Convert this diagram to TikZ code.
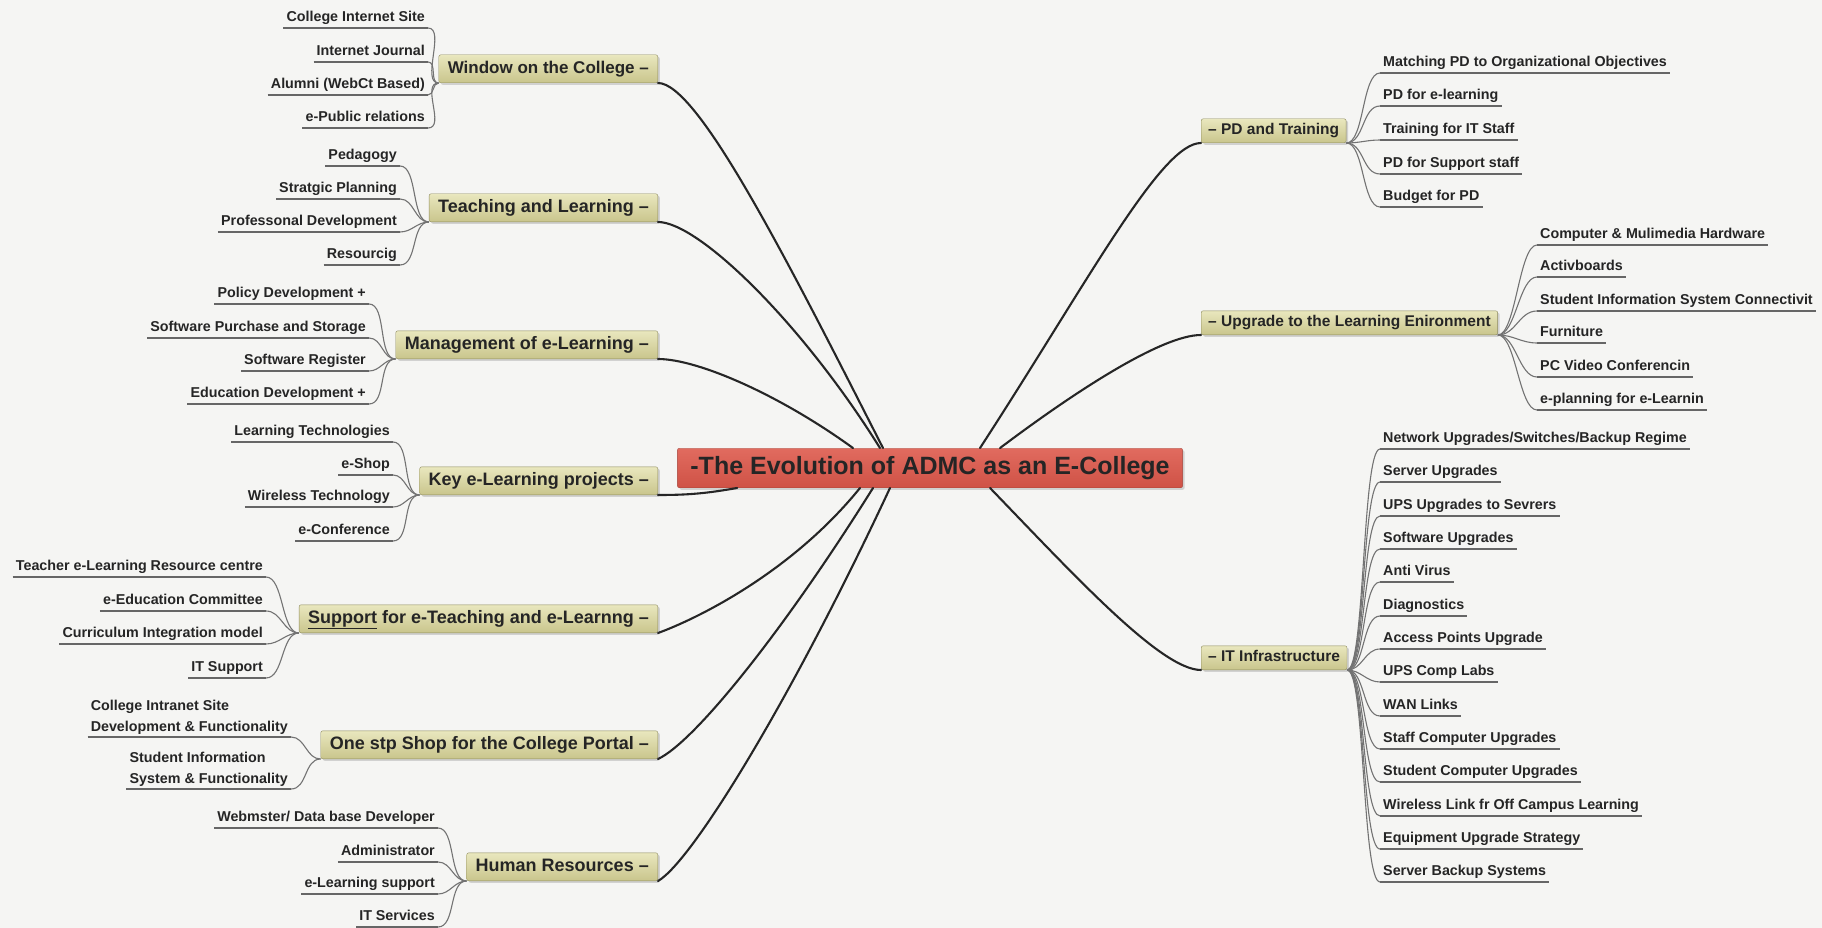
\documentclass[tikz,border=0pt]{standalone}
\usepackage{fontspec}
\setmainfont{Liberation Sans}
\usepackage{xcolor}
\usepackage{tikz}
\usetikzlibrary{shadows}

\definecolor{paper}{HTML}{F5F5F3}
\definecolor{inkDark}{HTML}{252525}
\definecolor{khakiTop}{HTML}{E9E7BE}
\definecolor{khakiBot}{HTML}{C9C58C}
\definecolor{khakiLine}{HTML}{8E8B5E}
\definecolor{coreTop}{HTML}{E16B5F}
\definecolor{coreBot}{HTML}{CF5246}
\definecolor{coreLine}{HTML}{A5443A}

\newcommand\corefont{\bfseries\fontsize{25}{28}\selectfont}
\newcommand\topicfont{\bfseries\fontsize{18}{20}\selectfont}
\newcommand\subtopicfont{\bfseries\fontsize{15.5}{18}\selectfont}
\newcommand\leaffont{\bfseries\fontsize{14.3}{21}\selectfont}

\begin{document}
\begin{tikzpicture}[
    x=1pt, y=1pt,
    core/.style={rectangle, rounded corners=2pt, draw=coreLine, top color=coreTop, bottom color=coreBot, text=inkDark, font=\corefont, inner xsep=13pt, inner ysep=8pt, text height=18pt, text depth=5.5pt, drop shadow={shadow xshift=2pt, shadow yshift=-2pt, opacity=0.3}},
    topic/.style={rectangle, rounded corners=2pt, draw=khakiLine, top color=khakiTop, bottom color=khakiBot, text=inkDark, font=\topicfont, inner xsep=9pt, inner ysep=5.5pt, text height=13pt, text depth=4pt, drop shadow={shadow xshift=2pt, shadow yshift=-2pt, opacity=0.3}},
    subtopic/.style={topic, font=\subtopicfont, inner xsep=7pt, inner ysep=4.5pt, text height=11.5pt, text depth=3.5pt},
    uline/.style={draw=black!60, line width=1.3pt},
    leafbase/.style={inner xsep=3pt, inner ysep=2.4pt, text=inkDark, font=\leaffont, append after command={\pgfextra{\let\thisleaf=\tikzlastnode} (\thisleaf.south west) edge[uline] (\thisleaf.south east)}},
    leaf/.style={leafbase, text height=10.5pt, text depth=3.5pt},
    leafpair/.style={leafbase, align=left},
    trunk/.style={draw=black!85, line width=2.1pt, line cap=round},
    twig/.style={draw=black!55, line width=1.1pt, max distance=18pt}
]

\useasboundingbox (0,0) rectangle (1822,-928);
\fill[paper] (0,0) rectangle (1822,-928);

% central topic
\node[core] (evo) at (930,-468) {-The Evolution of ADMC as an E-College};

% left main topics
\node[topic, anchor=south east, font=\bfseries\fontsize{17}{19}\selectfont] (win) at (658,-83) {Window on the College \textendash};
\node[topic, anchor=south east] (teach) at (658,-222) {Teaching and Learning \textendash};
\node[topic, anchor=south east] (mgmt) at (658,-359) {Management of e-Learning \textendash};
\node[topic, anchor=south east] (key) at (658,-495) {Key e-Learning projects \textendash};
\node[topic, anchor=south east] (sup) at (658,-633) {\underline{Support} for e-Teaching and e-Learnng \textendash};
\node[topic, anchor=south east] (shop) at (658,-759) {One stp Shop for the College Portal \textendash};
\node[topic, anchor=south east] (hr) at (658,-881) {Human Resources \textendash};

% right main topics
\node[subtopic, anchor=south west] (pd) at (1201,-143) {\textendash\ PD and Training};
\node[subtopic, anchor=south west] (upg) at (1201,-335) {\textendash\ Upgrade to the Learning Enironment};
\node[subtopic, anchor=south west] (it) at (1201,-670) {\textendash\ IT Infrastructure};

% leaves, left side
\node[leaf, anchor=south east] (win1) at (428,-28) {College Internet Site};
\node[leaf, anchor=south east] (win2) at (428,-62) {Internet Journal};
\node[leaf, anchor=south east] (win3) at (428,-95) {Alumni (WebCt Based)};
\node[leaf, anchor=south east] (win4) at (428,-128) {e-Public relations};

\node[leaf, anchor=south east] (teach1) at (400,-166) {Pedagogy};
\node[leaf, anchor=south east] (teach2) at (400,-199) {Stratgic Planning};
\node[leaf, anchor=south east] (teach3) at (400,-232) {Professonal Development};
\node[leaf, anchor=south east] (teach4) at (400,-265) {Resourcig};

\node[leaf, anchor=south east] (mgmt1) at (369,-304) {Policy Development +};
\node[leaf, anchor=south east] (mgmt2) at (369,-338) {Software Purchase and Storage};
\node[leaf, anchor=south east] (mgmt3) at (369,-371) {Software Register};
\node[leaf, anchor=south east] (mgmt4) at (369,-404) {Education Development +};

\node[leaf, anchor=south east] (key1) at (393,-442) {Learning Technologies};
\node[leaf, anchor=south east] (key2) at (393,-475) {e-Shop};
\node[leaf, anchor=south east] (key3) at (393,-507) {Wireless Technology};
\node[leaf, anchor=south east] (key4) at (393,-541) {e-Conference};

\node[leaf, anchor=south east] (sup1) at (266,-577) {Teacher e-Learning Resource centre};
\node[leaf, anchor=south east] (sup2) at (266,-611) {e-Education Committee};
\node[leaf, anchor=south east] (sup3) at (266,-644) {Curriculum Integration model};
\node[leaf, anchor=south east] (sup4) at (266,-678) {IT Support};

\node[leafpair, anchor=south east] (shop1) at (291,-737) {College Intranet Site\\Development \& Functionality};
\node[leafpair, anchor=south east] (shop2) at (291,-789) {Student Information\\System \& Functionality};

\node[leaf, anchor=south east] (hr1) at (438,-828) {Webmster/ Data base Developer};
\node[leaf, anchor=south east] (hr2) at (438,-862) {Administrator};
\node[leaf, anchor=south east] (hr3) at (438,-894) {e-Learning support};
\node[leaf, anchor=south east] (hr4) at (438,-927) {IT Services};

% leaves, right side
\node[leaf, anchor=south west] (pd1) at (1380,-73) {Matching PD to Organizational Objectives};
\node[leaf, anchor=south west] (pd2) at (1380,-106) {PD for e-learning};
\node[leaf, anchor=south west] (pd3) at (1380,-140) {Training for IT Staff};
\node[leaf, anchor=south west] (pd4) at (1380,-174) {PD for Support staff};
\node[leaf, anchor=south west] (pd5) at (1380,-207) {Budget for PD};

\node[leaf, anchor=south west] (upg1) at (1537,-245) {Computer \& Mulimedia Hardware};
\node[leaf, anchor=south west] (upg2) at (1537,-277) {Activboards};
\node[leaf, anchor=south west] (upg3) at (1537,-311) {Student Information System Connectivit};
\node[leaf, anchor=south west] (upg4) at (1537,-343) {Furniture};
\node[leaf, anchor=south west] (upg5) at (1537,-377) {PC Video Conferencin};
\node[leaf, anchor=south west] (upg6) at (1537,-410) {e-planning for e-Learnin};

\node[leaf, anchor=south west] (it1) at (1380,-449) {Network Upgrades/Switches/Backup Regime};
\node[leaf, anchor=south west] (it2) at (1380,-482) {Server Upgrades};
\node[leaf, anchor=south west] (it3) at (1380,-516) {UPS Upgrades to Sevrers};
\node[leaf, anchor=south west] (it4) at (1380,-549) {Software Upgrades};
\node[leaf, anchor=south west] (it5) at (1380,-582) {Anti Virus};
\node[leaf, anchor=south west] (it6) at (1380,-616) {Diagnostics};
\node[leaf, anchor=south west] (it7) at (1380,-649) {Access Points Upgrade};
\node[leaf, anchor=south west] (it8) at (1380,-682) {UPS Comp Labs};
\node[leaf, anchor=south west] (it9) at (1380,-716) {WAN Links};
\node[leaf, anchor=south west] (it10) at (1380,-749) {Staff Computer Upgrades};
\node[leaf, anchor=south west] (it11) at (1380,-782) {Student Computer Upgrades};
\node[leaf, anchor=south west] (it12) at (1380,-816) {Wireless Link fr Off Campus Learning};
\node[leaf, anchor=south west] (it13) at (1380,-849) {Equipment Upgrade Strategy};
\node[leaf, anchor=south west] (it14) at (1380,-882) {Server Backup Systems};

% main branches
\draw[trunk] (win.south east) to[out=0, in=117, out distance=40pt, in distance=210pt] ([xshift=-47pt]evo.north);
\draw[trunk] (teach.south east) to[out=0, in=122, out distance=40pt, in distance=150pt] ([xshift=-50pt]evo.north);
\draw[trunk] (mgmt.south east) to[out=0, in=144, out distance=40pt, in distance=90pt] ([xshift=-77pt]evo.north);
\draw[trunk] (key.south east) to[out=0, in=190] ([xshift=60pt]evo.south west);
\draw[trunk] (sup.south east) to[out=20, in=231, out distance=40pt, in distance=110pt] ([xshift=-70pt]evo.south);
\draw[trunk] (shop.south east) to[out=25, in=238, out distance=40pt, in distance=170pt] ([xshift=-57pt]evo.south);
\draw[trunk] (hr.south east) to[out=30, in=245, out distance=40pt, in distance=230pt] ([xshift=-40pt]evo.south);
\draw[trunk] (pd.south west) to[out=180, in=57, out distance=40pt, in distance=200pt] ([xshift=50pt]evo.north);
\draw[trunk] (upg.south west) to[out=180, in=37, out distance=40pt, in distance=90pt] ([xshift=70pt]evo.north);
\draw[trunk] (it.south west) to[out=180, in=-46, out distance=40pt, in distance=120pt] ([xshift=60pt]evo.south);

% twigs, left side
\draw[twig] (win.south west) to[out=180, in=0] (win1.south east);
\draw[twig] (win.south west) to[out=180, in=0] (win2.south east);
\draw[twig] (win.south west) to[out=180, in=0] (win3.south east);
\draw[twig] (win.south west) to[out=180, in=0] (win4.south east);

\draw[twig] (teach.south west) to[out=180, in=0] (teach1.south east);
\draw[twig] (teach.south west) to[out=180, in=0] (teach2.south east);
\draw[twig] (teach.south west) to[out=180, in=0] (teach3.south east);
\draw[twig] (teach.south west) to[out=180, in=0] (teach4.south east);

\draw[twig] (mgmt.south west) to[out=180, in=0] (mgmt1.south east);
\draw[twig] (mgmt.south west) to[out=180, in=0] (mgmt2.south east);
\draw[twig] (mgmt.south west) to[out=180, in=0] (mgmt3.south east);
\draw[twig] (mgmt.south west) to[out=180, in=0] (mgmt4.south east);

\draw[twig] (key.south west) to[out=180, in=0] (key1.south east);
\draw[twig] (key.south west) to[out=180, in=0] (key2.south east);
\draw[twig] (key.south west) to[out=180, in=0] (key3.south east);
\draw[twig] (key.south west) to[out=180, in=0] (key4.south east);

\draw[twig] (sup.south west) to[out=180, in=0] (sup1.south east);
\draw[twig] (sup.south west) to[out=180, in=0] (sup2.south east);
\draw[twig] (sup.south west) to[out=180, in=0] (sup3.south east);
\draw[twig] (sup.south west) to[out=180, in=0] (sup4.south east);

\draw[twig] (shop.south west) to[out=180, in=0] (shop1.south east);
\draw[twig] (shop.south west) to[out=180, in=0] (shop2.south east);

\draw[twig] (hr.south west) to[out=180, in=0] (hr1.south east);
\draw[twig] (hr.south west) to[out=180, in=0] (hr2.south east);
\draw[twig] (hr.south west) to[out=180, in=0] (hr3.south east);
\draw[twig] (hr.south west) to[out=180, in=0] (hr4.south east);

% twigs, right side
\draw[twig] (pd.south east) to[out=0, in=180] (pd1.south west);
\draw[twig] (pd.south east) to[out=0, in=180] (pd2.south west);
\draw[twig] (pd.south east) to[out=0, in=180] (pd3.south west);
\draw[twig] (pd.south east) to[out=0, in=180] (pd4.south west);
\draw[twig] (pd.south east) to[out=0, in=180] (pd5.south west);

\draw[twig] (upg.south east) to[out=0, in=180] (upg1.south west);
\draw[twig] (upg.south east) to[out=0, in=180] (upg2.south west);
\draw[twig] (upg.south east) to[out=0, in=180] (upg3.south west);
\draw[twig] (upg.south east) to[out=0, in=180] (upg4.south west);
\draw[twig] (upg.south east) to[out=0, in=180] (upg5.south west);
\draw[twig] (upg.south east) to[out=0, in=180] (upg6.south west);

\draw[twig] (it.south east) to[out=0, in=180] (it1.south west);
\draw[twig] (it.south east) to[out=0, in=180] (it2.south west);
\draw[twig] (it.south east) to[out=0, in=180] (it3.south west);
\draw[twig] (it.south east) to[out=0, in=180] (it4.south west);
\draw[twig] (it.south east) to[out=0, in=180] (it5.south west);
\draw[twig] (it.south east) to[out=0, in=180] (it6.south west);
\draw[twig] (it.south east) to[out=0, in=180] (it7.south west);
\draw[twig] (it.south east) to[out=0, in=180] (it8.south west);
\draw[twig] (it.south east) to[out=0, in=180] (it9.south west);
\draw[twig] (it.south east) to[out=0, in=180] (it10.south west);
\draw[twig] (it.south east) to[out=0, in=180] (it11.south west);
\draw[twig] (it.south east) to[out=0, in=180] (it12.south west);
\draw[twig] (it.south east) to[out=0, in=180] (it13.south west);
\draw[twig] (it.south east) to[out=0, in=180] (it14.south west);

\end{tikzpicture}
\end{document}
